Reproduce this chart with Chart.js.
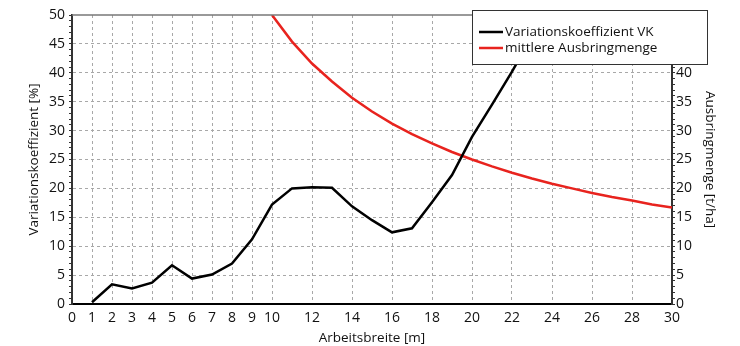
<!DOCTYPE html>
<html>
<head>
<meta charset="utf-8">
<script src="https://cdn.jsdelivr.net/npm/chart.js@4/dist/chart.umd.min.js"></script>
<style>
  html, body { margin: 0; padding: 0; background: #fff; }
  #wrap { width: 740px; height: 346px; }
</style>
</head>
<body>
<div id="wrap"><canvas id="myChart" width="740" height="346"></canvas></div>
<script>
// Arbeitsbreite [m] for the VK curve and its values [%]
const vkWidths = [1, 2, 3, 4, 5, 6, 7, 8, 9, 10, 11, 12, 13, 14, 15, 16, 17, 18, 19, 20, 21, 22, 23, 24];
const vkValues = [0.3, 3.4, 2.7, 3.7, 6.7, 4.4, 5.1, 7.0, 11.2, 17.2, 20.0, 20.2, 20.1, 16.9, 14.5, 12.4, 13.1, 17.6, 22.3, 28.9, 34.5, 40.2, 46.3, 52.5];

// Arbeitsbreite [m] for the application rate and its values [t/ha]
const rateWidths = [10, 11, 12, 13, 14, 15, 16, 17, 18, 19, 20, 21, 22, 23, 24, 25, 26, 27, 28, 29, 30];
const rateValues = [50.0, 45.4, 41.6, 38.5, 35.7, 33.3, 31.2, 29.4, 27.8, 26.3, 25.0, 23.8, 22.7, 21.7, 20.8, 20.0, 19.2, 18.5, 17.9, 17.2, 16.7];

const xTicks = [0, 1, 2, 3, 4, 5, 6, 7, 8, 9, 10, 12, 14, 16, 18, 20, 22, 24, 26, 28, 30];

const FONT = '"Open Sans", sans-serif';
const GRID = '#a8a8a8';

const toPoints = (xs, ys) => xs.map((x, i) => ({ x: x, y: ys[i] }));

// frame top line + legend box drawn over the chart
const framePlugin = {
  id: 'frame',
  afterDraw(chart) {
    const { ctx, chartArea: a } = chart;
    ctx.save();
    ctx.strokeStyle = '#777';
    ctx.lineWidth = 1.5;
    ctx.beginPath();
    ctx.moveTo(a.left, a.top);
    ctx.lineTo(a.right, a.top);
    ctx.stroke();

    // legend
    const bx = 472, by = 10, bw = 235, bh = 54;
    ctx.fillStyle = '#fff';
    ctx.fillRect(bx, by, bw, bh);
    ctx.strokeStyle = '#333';
    ctx.lineWidth = 1;
    ctx.strokeRect(bx + 0.5, by + 0.5, bw, bh);
    ctx.font = '13.5px ' + FONT;
    ctx.textBaseline = 'middle';
    chart.data.datasets.forEach((ds, i) => {
      const y = 32 + i * 16;
      ctx.strokeStyle = ds.borderColor;
      ctx.lineWidth = 2.5;
      ctx.beginPath();
      ctx.moveTo(479, y);
      ctx.lineTo(503, y);
      ctx.stroke();
      ctx.fillStyle = '#111';
      ctx.fillText(ds.label, 505, y);
    });
    ctx.restore();
  }
};

const yMinor = {
  min: 0, max: 50,
  ticks: {
    stepSize: 1, autoSkip: false,
    font: { family: FONT, size: 14 }, color: '#111',
    callback: v => (v % 5 === 0 ? v : '')
  }
};

const ctx = document.getElementById('myChart').getContext('2d');
new Chart(ctx, {
  type: 'line',
  data: {
    datasets: [{
      label: 'Variationskoeffizient VK',
      data: toPoints(vkWidths, vkValues),
      borderColor: '#000',
      borderWidth: 2.5,
      pointRadius: 0,
      yAxisID: 'y'
    }, {
      label: 'mittlere Ausbringmenge',
      data: toPoints(rateWidths, rateValues),
      borderColor: '#e8231e',
      borderWidth: 2.5,
      pointRadius: 0,
      yAxisID: 'y2'
    }]
  },
  options: {
    responsive: false,
    animation: false,
    devicePixelRatio: 1,
    layout: { padding: { top: 15, left: 0, right: 0, bottom: 0 } },
    plugins: { legend: { display: false }, tooltip: { enabled: false } },
    scales: {
      x: {
        type: 'linear', min: 0, max: 30,
        afterBuildTicks: s => { s.ticks = xTicks.map(v => ({ value: v })); },
        afterFit: s => { s.height = 42; },
        grid: {
          color: c => (c.tick && (c.tick.value === 0 || c.tick.value === 30) ? 'transparent' : GRID),
          drawTicks: false
        },
        border: { color: '#000', width: 2, dash: [3, 3] },
        ticks: { font: { family: FONT, size: 14 }, color: '#111', padding: 6, maxRotation: 0, autoSkip: false },
        title: { display: true, text: 'Arbeitsbreite [m]', font: { family: FONT, size: 13.5 }, color: '#111', padding: { bottom: 0 } }
      },
      y: Object.assign({}, yMinor, {
        position: 'left',
        afterFit: s => { s.width = 72; },
        grid: {
          color: c => (c.tick && c.tick.value % 5 === 0 && c.tick.value > 0 && c.tick.value < 50 ? GRID : 'transparent'),
          tickColor: '#333', tickLength: 3
        },
        border: { color: '#333', width: 2, dash: [3, 3] },
        ticks: Object.assign({}, yMinor.ticks, { padding: 4 }),
        title: { display: true, text: 'Variationskoeffizient [%]', font: { family: FONT, size: 13.5 }, color: '#111', padding: { top: 26 } }
      }),
      y2: Object.assign({}, yMinor, {
        position: 'right',
        afterFit: s => { s.width = 68; },
        grid: { drawOnChartArea: false, tickColor: '#333', tickLength: 3 },
        border: { color: '#333', width: 2 },
        ticks: Object.assign({}, yMinor.ticks, { padding: 1, callback: v => (v % 5 === 0 && v <= 40 ? v : '') }),
        title: { display: true, text: 'Ausbringmenge [t/ha]', font: { family: FONT, size: 13.5 }, color: '#111', padding: { top: 22 } }
      })
    }
  },
  plugins: [framePlugin]
});
</script>
</body>
</html>
